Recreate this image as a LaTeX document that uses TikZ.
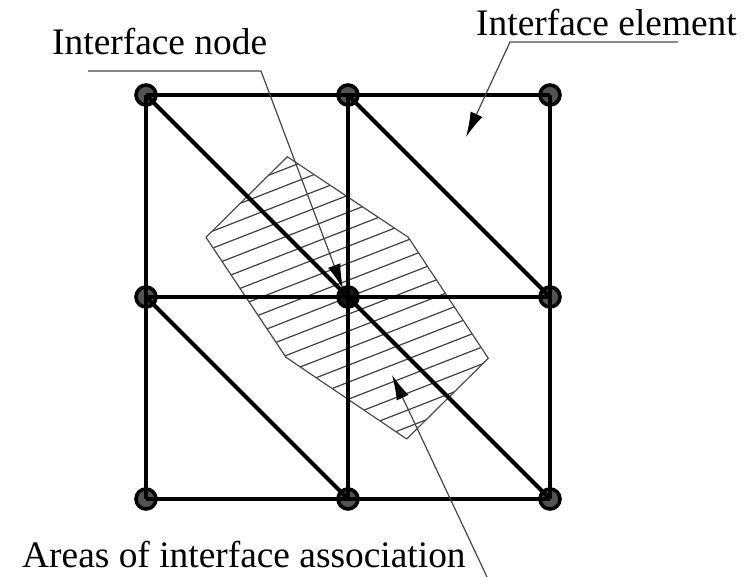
\documentclass[tikz,border=0pt]{standalone}
\usepackage{fontspec}
\setmainfont{Liberation Serif}
\usetikzlibrary{arrows.meta}
\tikzset{
  gridnode/.style={circle,draw=black,fill=black!68,line width=3.6pt,minimum size=20pt,inner sep=0pt},
  centernode/.style={gridnode,fill=black!90},
  mesh/.style={line width=4.2pt,draw=black},
  hatch/.style={line width=1.2pt,draw=black!75},
  outline/.style={line width=1.2pt,draw=black!70},
  leader/.style={line width=1.2pt,draw=black!72,-{Latex[length=25pt,width=13pt,black]}},
  label/.style={anchor=base west,inner sep=0pt,font=\fontsize{37.4}{42}\selectfont,text=black}
}
\begin{document}
\begin{tikzpicture}[x=1pt,y=-1pt]
\useasboundingbox (0,0) rectangle (750,577);
% hatched area
\begin{scope}
\clip (287.3,156.7) -- (408.3,237.3) -- (488.3,358.3) -- (406.7,439) -- (286,357.3) -- (206,237.3) -- cycle;
\foreach \k in {-8,...,10}{
  \draw[hatch] (180,{253.3+0.39*237.3+17*\k}) -- (510,{253.3-0.39*92.7+17*\k});
}
\end{scope}
\draw[outline,line join=round] (287.3,156.7) -- (408.3,237.3) -- (488.3,358.3) -- (406.7,439) -- (286,357.3) -- (206,237.3) -- cycle;
% nodes
\node[gridnode] (n11) at (146,95) {};
\node[gridnode] (n12) at (348,95) {};
\node[gridnode] (n13) at (550,95) {};
\node[gridnode] (n21) at (146,297) {};
\node[centernode] (n22) at (348,297) {};
\node[gridnode] (n23) at (550,297) {};
\node[gridnode] (n31) at (146,499) {};
\node[gridnode] (n32) at (348,499) {};
\node[gridnode] (n33) at (550,499) {};
% mesh
\foreach \a/\b in {n11/n12,n12/n13,n21/n22,n22/n23,n31/n32,n32/n33,
                   n11/n21,n21/n31,n12/n22,n22/n32,n13/n23,n23/n33,
                   n11/n22,n22/n33,n12/n23,n21/n32}{
  \draw[mesh] (\a.center) -- (\b.center);
}
% labels
\node[label] (lnode) at (52,55) {Interface node};
\node[label] (lelem) at (476,36) {Interface element};
\node[label] (larea) at (22,567) {Areas of interface association};
% leaders
\coordinate (a1) at (88,71);
\coordinate (a2) at (261,71);
\coordinate (a3) at (343,289);
\coordinate (b1) at (678,42);
\coordinate (b2) at (510,42);
\coordinate (b3) at (466,137);
\coordinate (c1) at (487,577);
\coordinate (c3) at (392,375);
\draw[leader] (a1) -- (a2) -- (a3);
\draw[leader] (b1) -- (b2) -- (b3);
\draw[leader] (c1) -- (c3);
\end{tikzpicture}
\end{document}
